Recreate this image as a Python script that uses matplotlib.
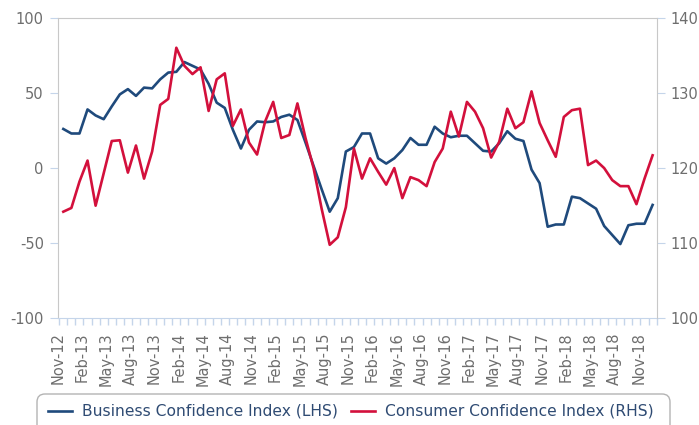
import numpy as np
import pandas as pd
import matplotlib
matplotlib.use('Agg')
import matplotlib.pyplot as plt
from matplotlib.lines import Line2D
from matplotlib.patches import FancyBboxPatch

plt.rcParams['font.family'] = ['DejaVu Sans']
plt.rcParams['axes.unicode_minus'] = False

# monthly categories, Nov-12 .. Dec-18
months = pd.date_range('2012-11-01', periods=74, freq='MS').strftime('%b-%y').tolist()

# Business Confidence Index (left axis)
business = [26, 23, 23, 39, 35, 32.5, 41, 49, 52.5, 48,
            53.5, 53, 59, 63.5, 64, 70.5, 68, 65.5, 56, 43.5,
            40, 25.5, 13, 25.5, 31, 30.5, 31, 34, 35.5, 32,
            17, 1.5, -14, -29, -20, 11, 14, 23, 23, 6.5,
            3, 6.5, 12, 20, 15.5, 15.5, 27.5, 23, 20.5, 21.5,
            21.5, 16.5, 11.5, 11, 16.5, 24.5, 19.5, 18, -1, -10,
            -39, -37.5, -37.5, -19, -20, -23.5, -27, -38.5, -44.5, -50.5,
            -38, -37, -37, -24.5]

# Consumer Confidence Index (right axis)
consumer = [114.2, 114.7, 118.2, 121.0, 115.0, 119.3, 123.6, 123.7, 119.4, 123.0,
            118.6, 122.2, 128.4, 129.2, 136.0, 133.6, 132.5, 133.4, 127.6, 131.8,
            132.6, 125.6, 127.8, 123.4, 121.8, 126.2, 128.8, 124.0, 124.4, 128.6,
            124.0, 120.0, 114.6, 109.8, 110.8, 114.8, 122.6, 118.6, 121.3, 119.5,
            117.8, 120.0, 116.0, 118.8, 118.4, 117.6, 120.8, 122.6, 127.5, 124.2,
            128.8, 127.5, 125.3, 121.4, 123.5, 127.9, 125.3, 126.1, 130.2, 126.0,
            123.7, 121.5, 126.8, 127.7, 127.9, 120.4, 121.0, 120.0, 118.4, 117.6,
            117.6, 115.2, 118.6, 121.7]

labels = ['Business Confidence Index (LHS)', 'Consumer Confidence Index (RHS)']

blue = '#1f4a7c'
red = '#d3103c'
tick_blue = '#c5d5ea'
frame_grey = '#c8c8c8'
label_grey = '#6e6e6e'
legend_text = '#2f4b73'

fig = plt.figure(figsize=(6.99, 4.25), dpi=100)
ax = fig.add_axes([0.0825, 0.2506, 0.8569, 0.7078])
ax2 = ax.twinx()

x = np.arange(len(months))
ax.plot(x, business, color=blue, lw=1.9)
ax2.plot(x, consumer, color=red, lw=1.9)

ax.set_xlim(-0.5, len(months) - 0.5)
ax.set_ylim(-100, 100)
ax.set_yticks([-100, -50, 0, 50, 100])
ax2.set_ylim(100, 140)
ax2.set_yticks([100, 110, 120, 130, 140])

# spines
for s in ['left', 'top']:
    ax.spines[s].set_color(frame_grey)
ax.spines['right'].set_visible(False)
ax.spines['bottom'].set_color(tick_blue)
for s in ['left', 'top', 'bottom']:
    ax2.spines[s].set_visible(False)
ax2.spines['right'].set_color(frame_grey)

ax.tick_params(axis='y', direction='out', length=6, color=tick_blue,
               labelcolor=label_grey, labelsize=10.5, pad=4)
ax2.tick_params(axis='y', direction='out', length=6, color=tick_blue,
                labelcolor=label_grey, labelsize=10.5, pad=4)

ax.set_xticks(x[::3] - 0.7)
ax.set_xticklabels(months[::3], rotation=90)
ax.set_xticks(np.arange(-0.5, len(months), 1), minor=True)
ax.tick_params(axis='x', which='major', length=0, pad=10,
               labelcolor=label_grey, labelsize=10.5)
ax.tick_params(axis='x', which='minor', length=5, color=tick_blue, width=1)

# legend box, cut by the bottom of the image
box = FancyBboxPatch((0.37, -0.25), 6.33, 0.56,
                     boxstyle='round,pad=0,rounding_size=0.08',
                     transform=fig.dpi_scale_trans,
                     facecolor='none', edgecolor='#b4b4b4', lw=1)
fig.add_artist(box)

handles = [Line2D([], [], color=blue, lw=1.9), Line2D([], [], color=red, lw=1.9)]
leg = fig.legend(handles, labels, loc='center left', ncol=2, frameon=False,
                 bbox_to_anchor=(40 / 699, 1 - 411.5 / 425), borderpad=0,
                 handlelength=1.55, handletextpad=0.65, columnspacing=0.85,
                 fontsize=11.2)
for t in leg.get_texts():
    t.set_color(legend_text)

fig.savefig('out.png', dpi=100)
